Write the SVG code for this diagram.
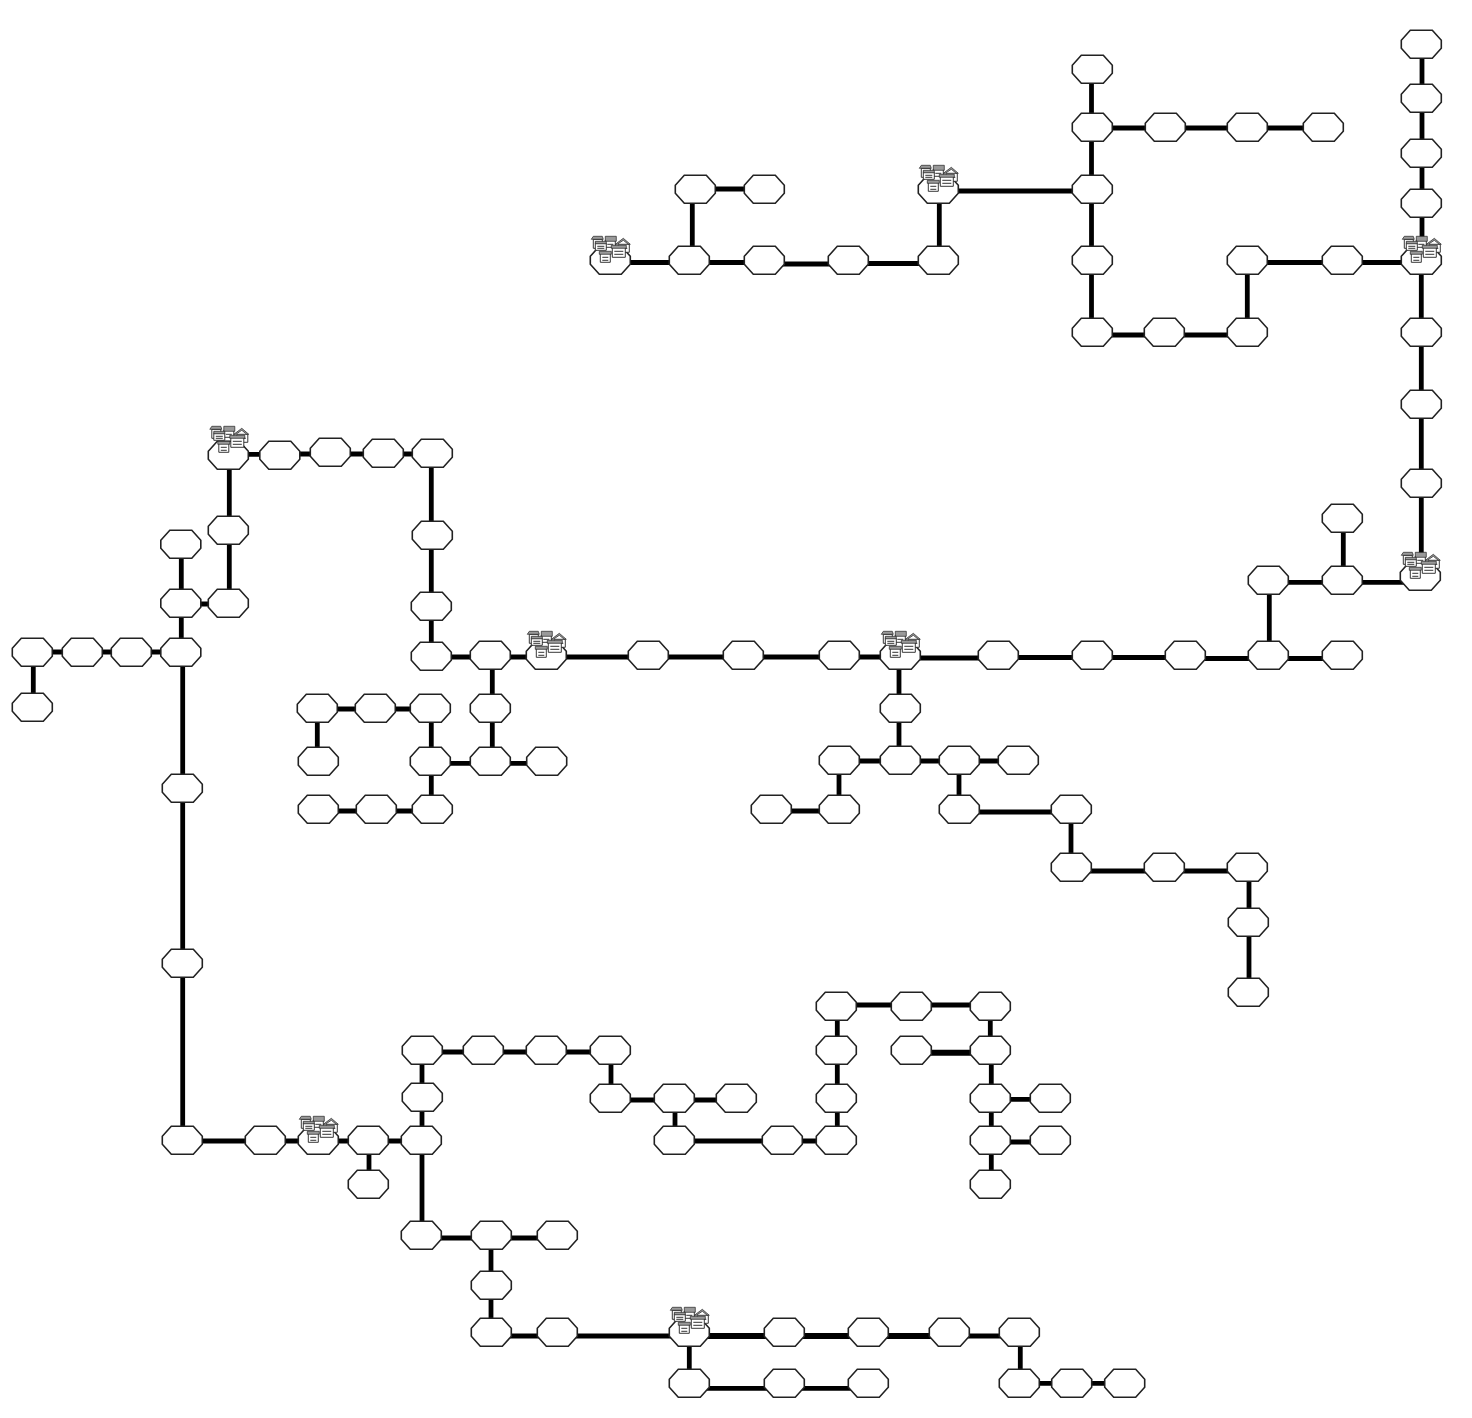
<svg xmlns="http://www.w3.org/2000/svg" width="1472" height="1418" viewBox="0 0 1472 1418">
<style>
#connectors line{stroke:#000;stroke-width:4.8}
#connectors line.t{stroke-width:6}
.o{fill:#fff;stroke:#222;stroke-width:1.6}
.h{fill:#fff;stroke:#222;stroke-width:.9}
.r{fill:#999;stroke:#222;stroke-width:.7}
.w{fill:none;stroke:#333;stroke-width:1}
.b{fill:#fff}
</style>
<defs>
<polygon id="o" class="o" points="-11,-14 11,-14 20,-4 20,4 11,14 -11,14 -20,4 -20,-4"/>
<g id="i">
<path class="b" d="M-14,-18h28v6h-28z"/>
<path class="h" d="M-17,-21h9v9h-9z"/><path class="r" d="M-19,-21l2,-3h9l1,3z"/><path class="w" d="M-15,-18h5"/>
<path class="h" d="M-5,-20h10v7h-10z"/><path class="r" d="M-5,-24h11v5h-11z"/><path class="w" d="M-3,-16h6"/>
<path class="h" d="M-15,-17h11v7h-11z"/><path class="r" d="M-15,-19h11v2.500h-11z"/><path class="w" d="M-13,-14h7M-13,-12h7"/>
<path class="h" d="M8,-16h11v8h-11z"/><path class="r" d="M5,-16l8,-6 7,6h-2l-5,-4-6,4z"/><path class="w" d="M10,-12h7"/>
<path class="h" d="M2,-13h13v10h-13z"/><path class="r" d="M1,-15h15v3h-15z"/><path class="w" d="M4,-9h9M4,-6h9"/>
<path class="h" d="M-10,-7h10v9h-10z"/><path class="r" d="M-11,-9h12v3h-12z"/><path class="w" d="M-8,-3h6M-8,0h6"/>
</g>
</defs>
<g id="connectors">
<line x1="610" y1="262.500" x2="689" y2="262.500"/><line x1="689" y1="262.500" x2="764" y2="262.500"/><line x1="764" y1="264" x2="848" y2="264"/><line x1="848" y1="263.500" x2="938" y2="263.500"/><line x1="692.300" y1="189" x2="692.300" y2="260"/><line x1="695" y1="189" x2="764" y2="189"/><line x1="939.300" y1="189" x2="939.300" y2="260"/><line x1="938" y1="191" x2="1092" y2="191"/>
<line x1="1091.500" y1="69" x2="1091.500" y2="127"/><line x1="1091.500" y1="127" x2="1091.500" y2="189"/><line x1="1091.500" y1="189" x2="1091.500" y2="260"/><line x1="1091.500" y1="260" x2="1091.500" y2="332"/><line x1="1092" y1="128" x2="1165" y2="128"/><line x1="1165" y1="128" x2="1247" y2="128"/><line x1="1247" y1="128" x2="1323" y2="128"/><line x1="1092" y1="335" x2="1164" y2="335"/><line x1="1164" y1="335" x2="1247" y2="335"/><line x1="1247.300" y1="260" x2="1247.300" y2="332"/><line x1="1247" y1="262.500" x2="1342" y2="262.500"/><line x1="1342" y1="262.500" x2="1421" y2="262.500"/>
<line x1="1422" y1="44" x2="1422" y2="98"/><line x1="1422" y1="98" x2="1422" y2="153"/><line x1="1422" y1="153" x2="1422" y2="203"/><line x1="1422" y1="203" x2="1422" y2="260"/><line x1="1421.300" y1="260" x2="1421.300" y2="332"/><line x1="1421.300" y1="332" x2="1421.300" y2="404"/><line x1="1421.300" y1="404" x2="1421.300" y2="483"/><line x1="1421.300" y1="483" x2="1421.300" y2="576"/>
<line x1="1421" y1="582.300" x2="1342" y2="582.300"/><line x1="1342" y1="582.300" x2="1268" y2="582.300"/><line x1="1343.300" y1="518" x2="1343.300" y2="580"/><line x1="1269.300" y1="580" x2="1269.300" y2="655"/><line x1="1268" y1="658.500" x2="1342" y2="658.500"/><line x1="1268" y1="658.500" x2="1185" y2="658.500"/><line x1="1185" y1="657.500" x2="1092" y2="657.500"/><line x1="1092" y1="657.500" x2="998" y2="657.500"/><line x1="998" y1="658" x2="900" y2="658"/>
<line x1="900" y1="657" x2="839" y2="657"/><line x1="839" y1="657" x2="743" y2="657"/><line x1="743" y1="657" x2="648" y2="657"/><line x1="648" y1="657" x2="546" y2="657"/><line x1="546" y1="657" x2="490" y2="657"/><line x1="490" y1="657" x2="431" y2="657"/>
<line x1="431.300" y1="656" x2="431.300" y2="606"/><line x1="431.300" y1="606" x2="431.300" y2="535"/><line x1="431.300" y1="535" x2="431.300" y2="453"/><line x1="432" y1="454" x2="383" y2="454"/><line x1="383" y1="454" x2="330" y2="454"/><line x1="330" y1="454" x2="279" y2="454"/><line x1="279" y1="454.300" x2="228" y2="454.300"/>
<line x1="229.300" y1="455" x2="229.300" y2="530"/><line x1="229.300" y1="530" x2="229.300" y2="603"/><line x1="228" y1="604" x2="180" y2="604"/><line x1="181.300" y1="544" x2="181.300" y2="603"/><line x1="181.300" y1="603" x2="181.300" y2="652"/><line x1="180" y1="652" x2="131" y2="652"/><line x1="131" y1="652" x2="82" y2="652"/><line x1="82" y1="652" x2="32" y2="652"/><line x1="33.300" y1="652" x2="33.300" y2="707"/>
<line x1="182.700" y1="652" x2="182.700" y2="788"/><line x1="182.700" y1="788" x2="182.700" y2="963"/><line x1="182.700" y1="963" x2="182.700" y2="1140"/><line x1="182" y1="1141" x2="265" y2="1141"/><line x1="265" y1="1141" x2="318" y2="1141"/><line x1="318" y1="1141" x2="368" y2="1141"/><line x1="369" y1="1140" x2="369" y2="1184"/><line x1="368" y1="1141" x2="421" y2="1141"/>
<line x1="422" y1="1050" x2="422" y2="1097"/><line x1="422" y1="1097" x2="422" y2="1140"/><line x1="422" y1="1052" x2="483" y2="1052"/><line x1="483" y1="1052" x2="546" y2="1052"/><line x1="546" y1="1052" x2="610" y2="1052"/><line x1="611" y1="1050" x2="611" y2="1098"/><line x1="610" y1="1100" x2="674" y2="1100"/><line x1="674" y1="1100" x2="736" y2="1100"/><line x1="675" y1="1098" x2="675" y2="1140"/><line x1="674" y1="1141" x2="782" y2="1141"/><line x1="782" y1="1141" x2="836" y2="1141"/>
<line x1="837.300" y1="1140" x2="837.300" y2="1098"/><line x1="837.300" y1="1098" x2="837.300" y2="1050"/><line x1="837.300" y1="1050" x2="837.300" y2="1006"/><line x1="836" y1="1005" x2="911" y2="1005"/><line x1="911" y1="1005" x2="990" y2="1005"/><line x1="990.300" y1="1006" x2="990.300" y2="1050"/><line class="t" x1="990" y1="1052.700" x2="911" y2="1052.700"/><line x1="991.300" y1="1050" x2="991.300" y2="1098"/><line x1="991.300" y1="1098" x2="991.300" y2="1140"/><line x1="991.300" y1="1140" x2="991.300" y2="1184"/><line x1="990" y1="1099.300" x2="1050" y2="1099.300"/><line x1="990" y1="1142" x2="1050" y2="1142"/>
<line x1="422" y1="1140" x2="422" y2="1235"/><line x1="421" y1="1238" x2="491" y2="1238"/><line x1="491" y1="1238" x2="557" y2="1238"/><line x1="491" y1="1235" x2="491" y2="1285"/><line x1="491" y1="1285" x2="491" y2="1332"/><line x1="491" y1="1336" x2="557" y2="1336"/><line x1="557" y1="1336" x2="689" y2="1336"/>
<line class="t" x1="689" y1="1336" x2="784" y2="1336"/><line class="t" x1="784" y1="1336" x2="868" y2="1336"/><line class="t" x1="868" y1="1336" x2="949" y2="1336"/><line x1="949" y1="1336" x2="1019" y2="1336"/><line x1="1020.300" y1="1332" x2="1020.300" y2="1383"/><line x1="1019" y1="1383.300" x2="1071" y2="1383.300"/><line x1="1071" y1="1383.300" x2="1124" y2="1383.300"/><line x1="689.300" y1="1332" x2="689.300" y2="1383"/><line x1="689" y1="1388.300" x2="784" y2="1388.300"/><line x1="784" y1="1388.300" x2="868" y2="1388.300"/>
<line x1="492.300" y1="655" x2="492.300" y2="708"/><line x1="492.300" y1="708" x2="492.300" y2="760"/><line x1="490" y1="763.300" x2="546" y2="763.300"/><line x1="490" y1="763.300" x2="430" y2="763.300"/><line x1="431.300" y1="708" x2="431.300" y2="761"/><line x1="431.300" y1="761" x2="431.300" y2="809"/><line x1="430" y1="709" x2="375" y2="709"/><line x1="375" y1="709" x2="317" y2="709"/><line x1="317.300" y1="708" x2="317.300" y2="761"/><line x1="431" y1="811" x2="375" y2="811"/><line x1="375" y1="811" x2="319" y2="811"/>
<line x1="899" y1="655" x2="899" y2="708"/><line x1="899" y1="708" x2="899" y2="760"/><line x1="900" y1="761" x2="839" y2="761"/><line x1="900" y1="761" x2="959" y2="761"/><line x1="959" y1="761" x2="1018" y2="761"/><line x1="839" y1="760" x2="839" y2="809"/><line x1="839" y1="811" x2="771" y2="811"/><line x1="959" y1="760" x2="959" y2="809"/><line x1="959" y1="812" x2="1071" y2="812"/><line x1="1071" y1="809" x2="1071" y2="867"/><line x1="1071" y1="871" x2="1164" y2="871"/><line x1="1164" y1="871" x2="1247" y2="871"/><line x1="1249" y1="867" x2="1249" y2="922"/><line x1="1249" y1="922" x2="1249" y2="992"/>
</g>
<g id="nodes" transform="translate(.3 .3)">
<g id="n1"><use href="#o" x="610" y="260"/><use href="#i" x="610" y="260"/></g>
<g id="n2"><use href="#o" x="689" y="260"/></g>
<g id="n3"><use href="#o" x="695" y="189"/></g>
<g id="n4"><use href="#o" x="764" y="189"/></g>
<g id="n5"><use href="#o" x="764" y="260"/></g>
<g id="n6"><use href="#o" x="848" y="260"/></g>
<g id="n7"><use href="#o" x="938" y="260"/></g>
<g id="n8"><use href="#o" x="938" y="189"/><use href="#i" x="938" y="189"/></g>
<g id="n9"><use href="#o" x="1092" y="69"/></g>
<g id="n10"><use href="#o" x="1092" y="127"/></g>
<g id="n11"><use href="#o" x="1165" y="127"/></g>
<g id="n12"><use href="#o" x="1247" y="127"/></g>
<g id="n13"><use href="#o" x="1323" y="127"/></g>
<g id="n14"><use href="#o" x="1092" y="189"/></g>
<g id="n15"><use href="#o" x="1092" y="260"/></g>
<g id="n16"><use href="#o" x="1092" y="332"/></g>
<g id="n17"><use href="#o" x="1164" y="332"/></g>
<g id="n18"><use href="#o" x="1247" y="332"/></g>
<g id="n19"><use href="#o" x="1247" y="260"/></g>
<g id="n20"><use href="#o" x="1342" y="260"/></g>
<g id="n21"><use href="#o" x="1421" y="260"/><use href="#i" x="1421" y="260"/></g>
<g id="n22"><use href="#o" x="1421" y="44"/></g>
<g id="n23"><use href="#o" x="1421" y="98"/></g>
<g id="n24"><use href="#o" x="1421" y="153"/></g>
<g id="n25"><use href="#o" x="1421" y="203"/></g>
<g id="n26"><use href="#o" x="1421" y="332"/></g>
<g id="n27"><use href="#o" x="1421" y="404"/></g>
<g id="n28"><use href="#o" x="1421" y="483"/></g>
<g id="n29"><use href="#o" x="1420" y="576"/><use href="#i" x="1420" y="576"/></g>
<g id="n30"><use href="#o" x="1342" y="518"/></g>
<g id="n31"><use href="#o" x="1342" y="580"/></g>
<g id="n32"><use href="#o" x="1268" y="580"/></g>
<g id="n33"><use href="#o" x="1268" y="655"/></g>
<g id="n34"><use href="#o" x="1342" y="655"/></g>
<g id="n35"><use href="#o" x="1185" y="655"/></g>
<g id="n36"><use href="#o" x="1092" y="655"/></g>
<g id="n37"><use href="#o" x="998" y="655"/></g>
<g id="n38"><use href="#o" x="900" y="655"/><use href="#i" x="900" y="655"/></g>
<g id="n39"><use href="#o" x="839" y="655"/></g>
<g id="n40"><use href="#o" x="743" y="655"/></g>
<g id="n41"><use href="#o" x="648" y="655"/></g>
<g id="n42"><use href="#o" x="546" y="655"/><use href="#i" x="546" y="655"/></g>
<g id="n43"><use href="#o" x="490" y="655"/></g>
<g id="n44"><use href="#o" x="431" y="656"/></g>
<g id="n45"><use href="#o" x="431" y="606"/></g>
<g id="n46"><use href="#o" x="432" y="535"/></g>
<g id="n47"><use href="#o" x="432" y="453"/></g>
<g id="n48"><use href="#o" x="383" y="453"/></g>
<g id="n49"><use href="#o" x="330" y="452"/></g>
<g id="n50"><use href="#o" x="279.500" y="455"/></g>
<g id="n51"><use href="#o" x="228" y="455"/><use href="#i" x="228.500" y="450"/></g>
<g id="n52"><use href="#o" x="228" y="530"/></g>
<g id="n53"><use href="#o" x="228" y="603"/></g>
<g id="n54"><use href="#o" x="180.500" y="603"/></g>
<g id="n55"><use href="#o" x="180.500" y="544"/></g>
<g id="n56"><use href="#o" x="180.500" y="652"/></g>
<g id="n57"><use href="#o" x="131" y="652"/></g>
<g id="n58"><use href="#o" x="82" y="652"/></g>
<g id="n59"><use href="#o" x="32" y="652"/></g>
<g id="n60"><use href="#o" x="32" y="707"/></g>
<g id="n61"><use href="#o" x="182" y="788"/></g>
<g id="n62"><use href="#o" x="182" y="963"/></g>
<g id="n63"><use href="#o" x="182" y="1140"/></g>
<g id="n64"><use href="#o" x="265" y="1140"/></g>
<g id="n65"><use href="#o" x="318" y="1140"/><use href="#i" x="318" y="1140"/></g>
<g id="n66"><use href="#o" x="368" y="1140"/></g>
<g id="n67"><use href="#o" x="368" y="1184"/></g>
<g id="n68"><use href="#o" x="421" y="1140"/></g>
<g id="n69"><use href="#o" x="422" y="1097"/></g>
<g id="n70"><use href="#o" x="422" y="1050"/></g>
<g id="n71"><use href="#o" x="483" y="1050"/></g>
<g id="n72"><use href="#o" x="546" y="1050"/></g>
<g id="n73"><use href="#o" x="610" y="1050"/></g>
<g id="n74"><use href="#o" x="610" y="1098"/></g>
<g id="n75"><use href="#o" x="674" y="1098"/></g>
<g id="n76"><use href="#o" x="736" y="1098"/></g>
<g id="n77"><use href="#o" x="674" y="1140"/></g>
<g id="n78"><use href="#o" x="782" y="1140"/></g>
<g id="n79"><use href="#o" x="836" y="1140"/></g>
<g id="n80"><use href="#o" x="836" y="1098"/></g>
<g id="n81"><use href="#o" x="836" y="1050"/></g>
<g id="n82"><use href="#o" x="836" y="1006"/></g>
<g id="n83"><use href="#o" x="911" y="1006"/></g>
<g id="n84"><use href="#o" x="990" y="1006"/></g>
<g id="n85"><use href="#o" x="990" y="1050"/></g>
<g id="n86"><use href="#o" x="911" y="1050"/></g>
<g id="n87"><use href="#o" x="990" y="1098"/></g>
<g id="n88"><use href="#o" x="1050" y="1098"/></g>
<g id="n89"><use href="#o" x="990" y="1140"/></g>
<g id="n90"><use href="#o" x="1050" y="1140"/></g>
<g id="n91"><use href="#o" x="990" y="1184"/></g>
<g id="n92"><use href="#o" x="421" y="1235"/></g>
<g id="n93"><use href="#o" x="491" y="1235"/></g>
<g id="n94"><use href="#o" x="557" y="1235"/></g>
<g id="n95"><use href="#o" x="491" y="1285"/></g>
<g id="n96"><use href="#o" x="491" y="1332"/></g>
<g id="n97"><use href="#o" x="557" y="1332"/></g>
<g id="n98"><use href="#o" x="689" y="1332"/><use href="#i" x="689" y="1331"/></g>
<g id="n99"><use href="#o" x="784" y="1332"/></g>
<g id="n100"><use href="#o" x="868" y="1332"/></g>
<g id="n101"><use href="#o" x="949" y="1332"/></g>
<g id="n102"><use href="#o" x="1019" y="1332"/></g>
<g id="n103"><use href="#o" x="1019" y="1383"/></g>
<g id="n104"><use href="#o" x="1071.400" y="1383"/></g>
<g id="n105"><use href="#o" x="1124.400" y="1383"/></g>
<g id="n106"><use href="#o" x="689" y="1383"/></g>
<g id="n107"><use href="#o" x="784" y="1383"/></g>
<g id="n108"><use href="#o" x="868" y="1383"/></g>
<g id="n109"><use href="#o" x="490" y="708"/></g>
<g id="n110"><use href="#o" x="490" y="761"/></g>
<g id="n111"><use href="#o" x="546.400" y="761"/></g>
<g id="n112"><use href="#o" x="430" y="761"/></g>
<g id="n113"><use href="#o" x="430" y="708"/></g>
<g id="n114"><use href="#o" x="375" y="708"/></g>
<g id="n115"><use href="#o" x="317" y="708"/></g>
<g id="n116"><use href="#o" x="318" y="761"/></g>
<g id="n117"><use href="#o" x="432" y="809"/></g>
<g id="n118"><use href="#o" x="376" y="809"/></g>
<g id="n119"><use href="#o" x="318" y="809"/></g>
<g id="n120"><use href="#o" x="900" y="708"/></g>
<g id="n121"><use href="#o" x="900" y="760"/></g>
<g id="n122"><use href="#o" x="839" y="760"/></g>
<g id="n123"><use href="#o" x="839" y="809"/></g>
<g id="n124"><use href="#o" x="771" y="809"/></g>
<g id="n125"><use href="#o" x="959" y="760"/></g>
<g id="n126"><use href="#o" x="1018" y="760"/></g>
<g id="n127"><use href="#o" x="959" y="809"/></g>
<g id="n128"><use href="#o" x="1071" y="809"/></g>
<g id="n129"><use href="#o" x="1071" y="867"/></g>
<g id="n130"><use href="#o" x="1164" y="867"/></g>
<g id="n131"><use href="#o" x="1247" y="867"/></g>
<g id="n132"><use href="#o" x="1248" y="922"/></g>
<g id="n133"><use href="#o" x="1248" y="992"/></g>
</g>
</svg>
